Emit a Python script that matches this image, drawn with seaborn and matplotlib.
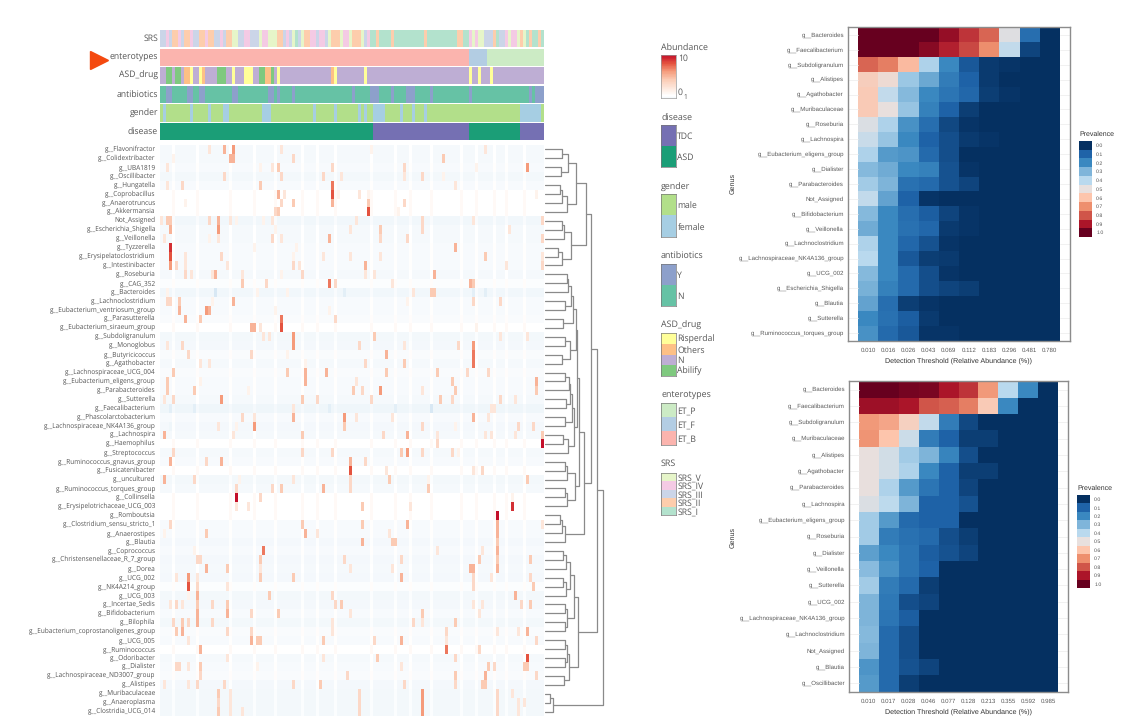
import numpy as np
import pandas as pd
import seaborn as sns
import matplotlib
matplotlib.use('Agg')
import matplotlib.pyplot as plt
from matplotlib.colors import ListedColormap, LinearSegmentedColormap

W, H = 1126, 723
n_samples = 128

# annotation tracks
disease_runs = [(1, 71), (0, 32), (1, 17), (0, 8)]  # 0 TDC, 1 ASD
entero_runs = [(2, 103), (1, 6), (0, 19)]  # 0 ET_P, 1 ET_F, 2 ET_B
female_cols = [1, 10, 16, 21, 22, 34, 35, 36, 51, 58, 66, 68, 71, 72, 73, 74, 80, 84, 88,
               120, 121, 122, 123, 124, 125, 126]
antibiotic_cols = [2, 3, 9, 10, 13, 14, 24, 25, 36, 37, 39, 44, 64, 70, 71, 72, 77, 82, 83, 84,
                   90, 103, 123, 125, 126, 127]
abilify_cols = [2, 3, 5, 6, 19, 20, 21, 33, 34, 37]
others_cols = [8, 9, 14, 35, 36, 57]
risperdal_cols = [10, 13, 24, 28, 29, 30, 39, 58, 68, 103, 106, 110]
srs_runs = [(3, 2), (4, 1), (3, 1), (2, 2), (4, 1), (3, 1), (2, 2), (4, 1), (3, 2), (2, 2), (4, 1),
            (2, 2), (3, 2), (4, 1), (3, 1), (2, 2), (5, 2), (3, 2), (4, 2), (3, 3), (5, 1), (4, 2),
            (5, 3), (2, 2), (3, 1), (4, 1), (3, 1), (5, 1), (1, 1), (3, 1), (5, 1), (2, 2), (4, 2),
            (3, 1), (4, 2), (3, 1), (5, 1), (2, 3), (5, 1), (4, 2), (5, 1), (2, 3), (5, 1), (3, 1),
            (4, 1), (1, 2), (2, 1), (1, 4), (2, 1), (1, 10), (2, 1), (1, 10), (2, 2), (1, 2), (4, 1),
            (5, 1), (4, 1), (5, 2), (3, 3), (2, 1), (1, 1), (3, 2), (4, 1), (5, 1), (4, 2), (5, 1),
            (2, 1), (5, 1), (1, 1), (2, 1), (1, 2), (2, 1), (1, 1)]

genera = ['g__Flavonifractor', 'g__Colidextribacter', 'g__UBA1819', 'g__Oscillibacter', 'g__Hungatella',
          'g__Coprobacillus', 'g__Anaerotruncus', 'g__Akkermansia', 'Not_Assigned', 'g__Escherichia_Shigella',
          'g__Veillonella', 'g__Tyzzerella', 'g__Erysipelatoclostridium', 'g__Intestinibacter', 'g__Roseburia',
          'g__CAG_352', 'g__Bacteroides', 'g__Lachnoclostridium', 'g__Eubacterium_ventriosum_group',
          'g__Parasutterella', 'g__Eubacterium_siraeum_group', 'g__Subdoligranulum', 'g__Monoglobus',
          'g__Butyricicoccus', 'g__Agathobacter', 'g__Lachnospiraceae_UCG_004', 'g__Eubacterium_eligens_group',
          'g__Parabacteroides', 'g__Sutterella', 'g__Faecalibacterium', 'g__Phascolarctobacterium',
          'g__Lachnospiraceae_NK4A136_group', 'g__Lachnospira', 'g__Haemophilus', 'g__Streptococcus',
          'g__Ruminococcus_gnavus_group', 'g__Fusicatenibacter', 'g__uncultured', 'g__Ruminococcus_torques_group',
          'g__Collinsella', 'g__Erysipelotrichaceae_UCG_003', 'g__Romboutsia', 'g__Clostridium_sensu_stricto_1',
          'g__Anaerostipes', 'g__Blautia', 'g__Coprococcus', 'g__Christensenellaceae_R_7_group', 'g__Dorea',
          'g__UCG_002', 'g__NK4A214_group', 'g__UCG_003', 'g__Incertae_Sedis', 'g__Bifidobacterium', 'g__Bilophila',
          'g__Eubacterium_coprostanoligenes_group', 'g__UCG_005', 'g__Ruminococcus', 'g__Odoribacter', 'g__Dialister',
          'g__Lachnospiraceae_ND3007_group', 'g__Alistipes', 'g__Muribaculaceae', 'g__Anaeroplasma',
          'g__Clostridia_UCG_014']

# background level of each row, most rows are a very pale blue
row_base = [-.5, -.5, -.4, -.7, -.4, 0, 0, 0, -.8, -.5, -.5, -.4, -.4, -.4, -.5, -.2, -.8, -.4, -.4, -.3,
            0, -.7, -.6, -.3, -.5, -.3, -.4, -.4, -.5, -1, -.4, -.6, -.5, 0, -.5, -.4, 0, -.7, -.5,
            0, 0, 0, -.4, -.4, -.6, -.4, -.6, -.5, -.6, -.2, -.7, -.6, -.4, -.7, -.3, -.4, 0, -.5, -.4,
            -.3, -.6, -.7, -.7, -.7]
# columns that look washed out to white through most of the rows
pale_cols = [4, 12, 23, 31, 38, 47, 52, 58, 70, 78, 83, 90, 100, 105, 111, 115, 121]

# (column, level) of the warm cells in each row
row_spots = [
    [(16, 2), (21, 5), (24, 6), (40, 2), (70, 1), (108, 2)],
    [(4, 1), (23, 5), (24, 5), (44, 3), (94, 4)],
    [(2, 2), (33, 1), (37, 2), (39, 4), (57, 3), (81, 3), (105, 1), (122, 6)],
    [(21, 3), (40, 3), (54, 3), (60, 2), (81, 2), (87, 3), (94, 1)],
    [(2, 2), (7, 3), (33, 4), (57, 7), (98, 2)],
    [(39, 5), (41, 2), (57, 8), (59, 1), (66, 2), (69, 1), (125, 1)],
    [(8, 1), (40, 3), (44, 4), (57, 5), (69, 4), (81, 3)],
    [(38, 3), (39, 4), (69, 8), (79, 1)],
    [(0, 2), (2, 4), (3, 4), (16, 3), (19, 5), (23, 2), (25, 1), (34, 1), (37, 2), (65, 2), (87, 3), (104, 2), (127, 3)],
    [(3, 5), (19, 6), (38, 1), (63, 2), (73, 4), (87, 3), (116, 2)],
    [(1, 2), (16, 1), (19, 2), (37, 3), (40, 2), (56, 5), (73, 3), (82, 3), (127, 3)],
    [(3, 9), (31, 1), (45, 1), (98, 5)],
    [(3, 8), (8, 2), (20, 3), (44, 1), (54, 2), (63, 2), (73, 2), (108, 4), (127, 2)],
    [(3, 6), (5, 3), (8, 2), (22, 2), (44, 3), (46, 2), (68, 5), (115, 2), (127, 3)],
    [(8, 3), (10, 2), (17, 2), (18, 5), (27, 2), (40, 1), (47, 3), (68, 2), (71, 2), (91, 5)],
    [(27, 4), (35, 3), (56, 7), (58, 3), (77, 2), (103, 5), (104, 4)],
    [(2, 1), (18, -3), (32, 1), (42, 1), (61, -2), (84, 2), (90, 4), (91, 4), (104, -2), (108, -2)],
    [(2, 3), (3, 3), (6, 4), (17, 1), (24, 5), (82, 1), (104, 3), (113, 3)],
    [(6, 5), (15, 6), (16, 5), (38, 1), (56, 1)],
    [(8, 5), (13, 4), (40, 7), (58, 3)],
    [(30, 5), (31, 5), (33, 2), (40, 8), (105, 1)],
    [(34, 2), (36, 2), (44, 6), (71, 4), (113, 2), (122, 2)],
    [(2, 2), (7, 3), (44, 6), (66, 3), (81, 2), (99, 3), (104, 6)],
    [(9, 3), (30, 3), (42, 1), (75, 5), (104, 7)],
    [(13, 2), (16, 2), (48, 1), (68, 3), (81, 4), (104, 7)],
    [(4, 4), (42, 4), (48, 5), (55, 5), (75, 4), (92, 4), (102, 3), (109, 3)],
    [(2, 4), (13, 1), (48, 5), (65, 2), (97, 4), (125, 5)],
    [(2, 4), (11, 4), (29, 1), (64, 4), (67, 3), (73, 6), (87, 2), (98, 4), (125, 4)],
    [(1, 2), (4, 3), (20, 6), (47, 4), (52, 3), (70, 3), (93, 4), (97, 3), (113, 3), (118, 2)],
    [(3, -2), (11, -2), (17, -1), (44, 2), (56, -2), (69, -1), (78, -2), (90, -3), (110, 2), (111, 2)],
    [(27, 3), (31, 2), (44, 5), (61, 6), (65, 2), (77, 2), (104, 5), (109, 2)],
    [(3, -1), (19, 2), (25, 1), (31, 6), (61, 4), (87, 3), (98, 1), (119, 3), (124, 3)],
    [(1, 5), (24, 2), (47, 4), (74, 3), (82, 5), (92, 2), (108, 2), (110, 2), (118, 2), (127, 4)],
    [(92, 3), (127, 10)],
    [(4, 3), (47, 3), (57, 3), (80, 4), (82, 6), (87, 3), (97, 3), (99, 1)],
    [(3, 5), (15, 3), (20, 5), (63, 5), (68, 3)],
    [(63, 8), (75, 2), (104, 2), (107, 3)],
    [(1, 5), (11, 3), (26, 1), (44, 2), (63, 3), (76, 4), (89, 1), (122, 4)],
    [(25, 3), (37, 3), (40, 4), (54, 5), (63, 3), (89, 4)],
    [(25, 10), (33, 3), (117, 1)],
    [(25, 2), (29, 2), (67, 4), (83, 2), (117, 9)],
    [(112, 10)],
    [(3, 3), (47, 4), (67, 4), (82, 5), (112, 5), (127, 2)],
    [(1, 1), (15, 4), (48, 5), (52, 2), (76, 2), (112, 5)],
    [(67, 5), (77, 4), (78, 4), (112, 4)],
    [(11, 1), (34, 7), (92, 2), (107, 2), (112, 5)],
    [(12, 3), (13, 3), (33, 4), (61, 3), (80, 3), (106, 4), (112, 4), (123, 4)],
    [(15, 5), (22, 4), (33, 2), (63, 2), (77, 2), (103, 5), (104, 5), (112, 5)],
    [(5, 2), (9, 6), (12, 2), (33, 4), (44, 4), (80, 5), (104, 3), (110, 2), (123, 3)],
    [(9, 8), (12, 3), (22, 2), (104, 3), (124, 4)],
    [(9, 1), (12, 5), (36, 4), (57, 3), (118, 5)],
    [(3, 2), (5, 3), (7, 2), (12, 4), (17, 3), (22, 4), (58, 3), (60, 4), (104, 2), (107, 2), (120, 3), (123, 4)],
    [(12, 5), (22, 5), (30, 3), (39, 4), (63, 2), (87, 4), (106, 2)],
    [(4, 3), (7, 4), (9, 3), (12, 5), (17, 3), (57, 2), (84, 3), (87, 2), (98, 4)],
    [(5, 4), (7, 5), (22, 3), (30, 3), (57, 2), (95, 3), (112, 2), (119, 2), (122, 5)],
    [(9, 2), (30, 5), (32, 4), (33, 4), (54, 4), (71, 3), (80, 5), (95, 2), (125, 3)],
    [(13, 5), (95, 7), (106, 3)],
    [(22, 2), (54, 2), (72, 4), (98, 3), (122, 8)],
    [(5, 3), (6, 3), (9, 2), (13, 4), (32, 1), (80, 2), (109, 4), (111, 3), (121, 4), (122, 4)],
    [(13, 3), (62, 3), (98, 4), (108, 5), (125, 3)],
    [(1, 2), (9, 2), (12, 3), (21, 3), (44, 3), (53, 4), (81, 3), (98, 3), (107, 4), (108, 4)],
    [(19, 4), (23, 2), (66, 3), (87, 6), (112, 3), (117, 2)],
    [(19, 3), (23, 2), (66, 3), (87, 6), (112, 3), (119, 2), (121, 2)],
    [(19, 4), (23, 2), (27, 2), (66, 3), (87, 6), (112, 3), (119, 2)],
]

# dendrogram: (merge height, left, right), ints are row numbers
upper_tree = (41, (31, (23, (17, 0, 1), (16, 2, 3)), (22, (17, (15, 4, 5), 6), 7)),
              (26, (19, (17, 8, 9), 10), (17, (13, 11, 12), 13)))
mid_a = (31, (28, (26, (23, (22, 14, 15), 16), (20, 17, 18)), (18, 19, 20)), (25, (20, 21, 22), (17, 23, 24)))
mid_b = (29, (27, (25, (24, (20, 25, 26), 27), (21, 28, 29)), (20, 30, 31)), (23, (18, 32, 33), 34))
mid_c = (30, (22, (20, 35, 36), 37), (22, (20, 38, 39), 40))
mid_tree = (39, (33.5, (31.5, mid_a, mid_b), mid_c), (20, (17, (15, 41, 42), 43), 44))
low_tree = (33, (29, (25, (21, (18, 45, 46), 47), (21, (18, 48, 49), 50)), (22, (20, 51, 52), (20, 53, 54))),
            (24, (22, (20, 55, 56), (20, 57, 58)), (19, 59, 60)))
full_tree = (58, (52, (46, upper_tree, mid_tree), low_tree), (8, (5, 61, 62), 63))

# core microbiome panels
thresholds_top = ['0.010', '0.016', '0.026', '0.043', '0.069', '0.112', '0.183', '0.296', '0.481', '0.780']
genus_top = ['g__Bacteroides', 'g__Faecalibacterium', 'g__Subdoligranulum', 'g__Alistipes', 'g__Agathobacter',
             'g__Muribaculaceae', 'g__Roseburia', 'g__Lachnospira', 'g__Eubacterium_eligens_group', 'g__Dialister',
             'g__Parabacteroides', 'Not_Assigned', 'g__Bifidobacterium', 'g__Veillonella', 'g__Lachnoclostridium',
             'g__Lachnospiraceae_NK4A136_group', 'g__UCG_002', 'g__Escherichia_Shigella', 'g__Blautia',
             'g__Sutterella', 'g__Ruminococcus_torques_group']
prev_top = [[1, 1, 1, 1, .93, .85, .77, .48, .13, 0],
            [1, 1, 1, .95, .88, .82, .7, .42, .04, 0],
            [.77, .73, .62, .38, .2, .08, .02, .01, 0, 0],
            [.57, .52, .35, .27, .17, .1, .02, 0, 0, 0],
            [.58, .42, .31, .2, .15, .11, .03, .01, 0, 0],
            [.58, .5, .34, .18, .1, .03, 0, 0, 0, 0],
            [.47, .38, .22, .13, .05, .01, 0, 0, 0, 0],
            [.43, .34, .2, .1, .06, .02, .01, 0, 0, 0],
            [.38, .24, .23, .12, .06, 0, 0, 0, 0, 0],
            [.31, .28, .2, .18, .07, .01, 0, 0, 0, 0],
            [.36, .3, .14, .12, .07, .04, 0, 0, 0, 0],
            [.42, .26, .1, .01, 0, 0, 0, 0, 0, 0],
            [.31, .2, .13, .09, .04, .01, 0, 0, 0, 0],
            [.28, .2, .14, .11, .02, .01, 0, 0, 0, 0],
            [.38, .2, .11, .07, .01, 0, 0, 0, 0, 0],
            [.4, .2, .08, .03, .02, 0, 0, 0, 0, 0],
            [.31, .2, .12, .06, .01, 0, 0, 0, 0, 0],
            [.29, .18, .12, .06, .04, .03, 0, 0, 0, 0],
            [.26, .13, .03, .01, 0, 0, 0, 0, 0, 0],
            [.2, .14, .09, .02, 0, 0, 0, 0, 0, 0],
            [.22, .12, .08, .01, .01, 0, 0, 0, 0, 0]]

thresholds_bottom = ['0.010', '0.017', '0.028', '0.046', '0.077', '0.128', '0.213', '0.355', '0.592', '0.985']
genus_bottom = ['g__Bacteroides', 'g__Faecalibacterium', 'g__Subdoligranulum', 'g__Muribaculaceae', 'g__Alistipes',
                'g__Agathobacter', 'g__Parabacteroides', 'g__Lachnospira', 'g__Eubacterium_eligens_group',
                'g__Roseburia', 'g__Dialister', 'g__Veillonella', 'g__Sutterella', 'g__UCG_002',
                'g__Lachnospiraceae_NK4A136_group', 'g__Lachnoclostridium', 'Not_Assigned', 'g__Blautia',
                'g__Oscillibacter']
prev_bottom = [[1, 1, .98, .97, .9, .85, .68, .4, .2, 0],
               [.92, .92, .9, .8, .78, .73, .58, .2, 0, 0],
               [.68, .66, .56, .42, .17, .05, 0, 0, 0, 0],
               [.69, .6, .44, .17, .1, .03, .03, 0, 0, 0],
               [.5, .45, .36, .3, .19, .06, 0, 0, 0, 0],
               [.5, .45, .38, .2, .1, .03, .03, 0, 0, 0],
               [.5, .38, .24, .15, .1, .04, 0, 0, 0, 0],
               [.47, .41, .3, .1, .1, .07, 0, 0, 0, 0],
               [.36, .24, .12, .1, .1, 0, 0, 0, 0, 0],
               [.36, .17, .14, .12, .06, .03, 0, 0, 0, 0],
               [.25, .2, .15, .09, .07, .04, 0, 0, 0, 0],
               [.32, .22, .15, .1, 0, 0, 0, 0, 0, 0],
               [.36, .17, .12, .03, 0, 0, 0, 0, 0, 0],
               [.3, .16, .06, .04, 0, 0, 0, 0, 0, 0],
               [.3, .15, .09, 0, 0, 0, 0, 0, 0, 0],
               [.31, .12, .06, 0, 0, 0, 0, 0, 0, 0],
               [.3, .12, .06, 0, 0, 0, 0, 0, 0, 0],
               [.23, .12, .07, .04, 0, 0, 0, 0, 0, 0],
               [.24, .12, .03, 0, 0, 0, 0, 0, 0, 0]]
prev_levels = [0.0, 0.1, 0.2, 0.3, 0.4, 0.5, 0.6, 0.7, 0.8, 0.9, 1.0]
prev_colors = ['#053061', '#1f63a8', '#3a88c0', '#7fb5da', '#b9d9ee', '#e8e0de',
               '#fdc5ac', '#ee8f6e', '#d05549', '#ac1529', '#67001f']

disease_colors = ['#7570b3', '#1b9e77']
gender_colors = ['#b2df8a', '#a6cee3']
abx_colors = ['#8da0cb', '#66c2a5']
drug_colors = ['#ffff99', '#fdc086', '#beaed4', '#7fc97f']
entero_colors = ['#ccebc5', '#b3cde3', '#fbb4ae']
srs_colors = ['#e6f5c9', '#f4cae4', '#cbd5e8', '#fdcdac', '#b3e2cd']

sns.set_theme(style='white')
plt.rcParams['font.family'] = ['Open Sans', 'DejaVu Sans']
plt.rcParams['text.color'] = '#555555'
plt.rcParams['text.hinting'] = 'none'
fig = plt.figure(figsize=(W / 100, H / 100), dpi=100)


def px_axes(left, top, right, bottom):
    return fig.add_axes([left / W, 1 - bottom / H, (right - left) / W, (bottom - top) / H])


def expand(runs):
    out = []
    for value, count in runs:
        out += [value] * count
    return out


def mark(cols, value, base):
    out = np.full(n_samples, base)
    out[cols] = value
    return out


def draw_track(top, bottom, name, values, colors, offset=0):
    ax = px_axes(160, top, 543.5, bottom)
    sns.heatmap(np.array([values]), ax=ax, cmap=ListedColormap(colors), vmin=offset - .5,
                vmax=offset + len(colors) - .5, cbar=False, xticklabels=False, yticklabels=[name])
    ax.tick_params(axis='y', length=0, pad=1.5, labelsize=6.2, labelcolor='#555555', rotation=0)


drug_track = mark(abilify_cols, 3, 2)
drug_track[others_cols] = 1
drug_track[risperdal_cols] = 0

draw_track(30, 47, 'SRS', expand(srs_runs), srs_colors[::-1], offset=1)
draw_track(49, 66, 'enterotypes', expand(entero_runs), entero_colors)
draw_track(67, 84, 'ASD_drug', drug_track, drug_colors)
draw_track(86, 103, 'antibiotics', mark(antibiotic_cols, 0, 1), abx_colors)
draw_track(104, 122, 'gender', mark(female_cols, 1, 0), gender_colors)
draw_track(123, 140, 'disease', expand(disease_runs), disease_colors)

# main abundance heatmap
abundance = np.array(row_base)[:, None] * np.ones((len(genera), n_samples))
abundance[:, pale_cols] += .5
for row, spots in enumerate(row_spots):
    for col, level in spots:
        abundance[row, col] = level
heat_df = pd.DataFrame(np.clip(abundance, -3, 10), index=genera)
stops = [(0, '#d8e8f4'), (2.5 / 13, '#f5f9fc'), (3 / 13, '#ffffff'), (4 / 13, '#fef3ec'), (5 / 13, '#fde6da'),
         (7 / 13, '#fbcbb4'), (9 / 13, '#f59c7c'), (11 / 13, '#e4533f'), (1, '#c40f2a')]
heat_cmap = LinearSegmentedColormap.from_list('abund', stops)
ax_heat = px_axes(160, 145, 543.5, 716)
sns.heatmap(heat_df, ax=ax_heat, cmap=heat_cmap, vmin=-3, vmax=10, cbar=False, xticklabels=False, yticklabels=True)
ax_heat.tick_params(axis='y', length=0, pad=3, labelsize=4.7, labelcolor='#555555', rotation=0)

# row dendrogram
ax_tree = px_axes(545, 145, 606, 716)
ax_tree.set_xlim(0, 61)
ax_tree.set_ylim(len(genera), 0)
ax_tree.axis('off')


def draw_tree(node):
    if isinstance(node, int):
        return 0, node + .5
    height, left, right = node
    h_a, y_a = draw_tree(left)
    h_b, y_b = draw_tree(right)
    sns.lineplot(x=[h_a, height, height, h_b], y=[y_a, y_a, y_b, y_b], ax=ax_tree, sort=False, estimator=None,
                 color='#8a8a8a', lw=.9)
    return height, (y_a + y_b) / 2


draw_tree(full_tree)

# text, arrow and legend titles placed in pixel coordinates
overlay = fig.add_axes([0, 0, 1, 1], zorder=5)
overlay.set_xlim(0, W)
overlay.set_ylim(H, 0)
overlay.axis('off')
overlay.patch.set_alpha(0)
overlay.plot([99], [59.5], marker='>', ms=13, mfc='#f4490f', mec='#f4490f', ls='none')


def legend_block(title, title_y, top, bottom, labels, colors):
    overlay.text(661, title_y, title, fontsize=6.4, va='center', ha='left')
    ax = px_axes(661, top, 676, bottom)
    sns.heatmap(np.arange(len(colors))[:, None], ax=ax, cmap=ListedColormap(colors), cbar=False,
                xticklabels=False, yticklabels=labels)
    ax.yaxis.tick_right()
    ax.tick_params(axis='y', length=0, pad=1, labelsize=6.2, labelcolor='#555555', rotation=0)
    for spine in ax.spines.values():
        spine.set_visible(True)
        spine.set_color('#777777')
        spine.set_linewidth(.5)


overlay.text(661, 48, 'Abundance', fontsize=6.4, va='center')
ax_abund = px_axes(661, 55, 676, 98)
ramp = np.linspace(10, -.5, 60)[:, None]
sns.heatmap(ramp, ax=ax_abund, cmap=heat_cmap, vmin=-3, vmax=10, cbar=False, xticklabels=False, yticklabels=False)
for spine in ax_abund.spines.values():
    spine.set_visible(True)
    spine.set_color('#999999')
    spine.set_linewidth(.5)
overlay.text(678, 59, '10', fontsize=6.2, va='center')
overlay.text(678, 93, '0', fontsize=6.2, va='center')
overlay.text(683, 97, '1', fontsize=4.8, va='center')

legend_block('disease', 118, 125, 167, ['TDC', 'ASD'], disease_colors)
legend_block('gender', 187, 194, 237, ['male', 'female'], gender_colors)
legend_block('antibiotics', 256, 264, 306, ['Y', 'N'], abx_colors)
legend_block('ASD_drug', 326, 333, 376, ['Risperdal', 'Others', 'N', 'Abilify'], drug_colors)
legend_block('enterotypes', 395, 403, 445, ['ET_P', 'ET_F', 'ET_B'], entero_colors)
legend_block('SRS', 464, 473, 515, ['SRS_V', 'SRS_IV', 'SRS_III', 'SRS_II', 'SRS_I'], srs_colors)

prev_cmap = LinearSegmentedColormap.from_list('prev', prev_colors)


def core_panel(frame, genus, thresholds, values, label_y, legend_box):
    left, top, right, bottom = frame
    ax = px_axes(left, top, right, bottom)
    df = pd.DataFrame(values, index=genus, columns=thresholds)
    sns.heatmap(df, ax=ax, cmap=prev_cmap, vmin=0, vmax=1, cbar=False, xticklabels=True, yticklabels=True)
    ax.set_xlim(-.5, 10.5)
    ax.set_ylim(len(genus) + .03, -.03)
    for y in np.arange(len(genus)) + .5:
        ax.plot([-.5, 0], [y, y], color='#ececec', lw=.5)
        ax.plot([10, 10.5], [y, y], color='#ececec', lw=.5)
    ax.tick_params(axis='both', length=1.5, width=.5, color='#555555', pad=1.5, labelcolor='#5a5a5a')
    ax.tick_params(axis='y', labelsize=4.4, rotation=0)
    ax.tick_params(axis='x', labelsize=4.4, rotation=0, pad=3.5)
    for label in ax.get_xticklabels() + ax.get_yticklabels():
        label.set_family('Liberation Sans')
    ax.set_xlabel('')
    ax.set_ylabel('')
    for spine in ax.spines.values():
        spine.set_visible(True)
        spine.set_color('#8c8c8c')
        spine.set_linewidth(1)
    overlay.text((left + right) / 2 - .5, bottom + 20, 'Detection Threshold (Relative Abundance (%))',
                 fontsize=5.1, family='Liberation Sans', ha='center', va='center', color='#333333')
    overlay.text(733, label_y, 'Genus', fontsize=5.1, family='Liberation Sans', rotation=90,
                 ha='center', va='center', color='#333333')
    # discrete legend on the right
    x0, y0, x1, y1 = legend_box
    overlay.text(x0, y0 - 6.5, 'Prevalence', fontsize=5, family='Liberation Sans', va='center', color='#333333')
    ax_leg = px_axes(x0, y0, x1, y1)
    sns.heatmap(np.arange(len(prev_levels))[:, None], ax=ax_leg, cmap=ListedColormap(prev_colors), cbar=False,
                xticklabels=False, yticklabels=[f'{v:.1f}' for v in prev_levels])
    ax_leg.yaxis.tick_right()
    ax_leg.tick_params(axis='y', length=0, pad=3, labelsize=3.8, rotation=0, labelcolor='#555555')
    for label in ax_leg.get_yticklabels():
        label.set_family('Liberation Sans')


core_panel((848, 27, 1070, 341), genus_top, thresholds_top, prev_top, 183, (1079, 141, 1092, 237))
core_panel((849, 381, 1068, 692), genus_bottom, thresholds_bottom, prev_bottom, 537, (1077, 495, 1090, 588))

fig.savefig('out.png', dpi=100, facecolor='white')
